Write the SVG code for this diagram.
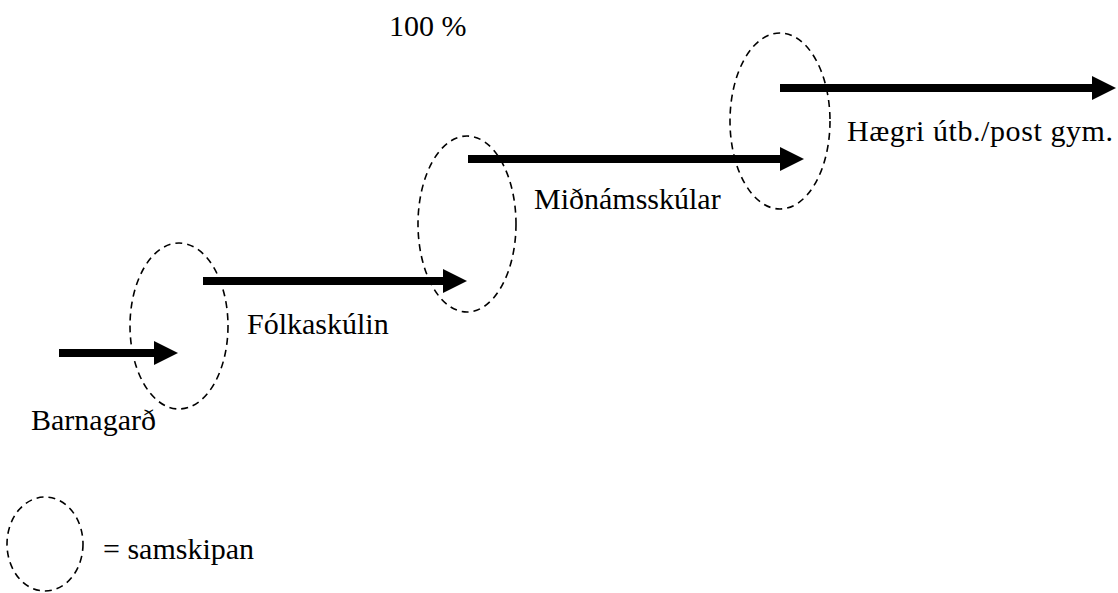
<svg xmlns="http://www.w3.org/2000/svg" width="1118" height="593" viewBox="0 0 1118 593">
<style>
.t{font-family:"Liberation Serif","Times New Roman",serif;font-size:30px;fill:#000}
.e{fill:none;stroke:#000;stroke-width:1.6;stroke-dasharray:7 5}
.a{stroke:#000;stroke-width:8;fill:none}
</style>
<defs>
<marker id="ah" markerUnits="userSpaceOnUse" markerWidth="24" markerHeight="24" viewBox="0 0 24 24" refX="0" refY="12" orient="auto">
<path d="M0,0 L24,12 L0,24 z" fill="#000"/>
</marker>
</defs>
<rect width="1118" height="593" fill="#fff"/>
<g id="connectors">
<line class="a" x1="59" y1="353" x2="154" y2="353" marker-end="url(#ah)"/>
<line class="a" x1="203" y1="281" x2="443" y2="281" marker-end="url(#ah)"/>
<line class="a" x1="468" y1="159" x2="780" y2="159" marker-end="url(#ah)"/>
<line class="a" x1="780" y1="88" x2="1092" y2="88" marker-end="url(#ah)"/>
</g>
<g id="overlap1"><ellipse class="e" cx="179" cy="326" rx="49" ry="83"/></g>
<g id="overlap2"><ellipse class="e" cx="467" cy="224" rx="49" ry="88"/></g>
<g id="overlap3"><ellipse class="e" cx="780" cy="121" rx="50" ry="88"/></g>
<g id="title"><text class="t" x="389" y="36">100 %</text></g>
<g id="barnagard"><text class="t" x="31" y="430">Barnagarð</text></g>
<g id="folkaskulin"><text class="t" x="247" y="334">Fólkaskúlin</text></g>
<g id="midnamsskular"><text class="t" x="534" y="209">Miðnámsskúlar</text></g>
<g id="haegri"><text class="t" x="847" y="141" textLength="266" lengthAdjust="spacing">Hægri útb./post gym.</text></g>
<g id="legend">
<ellipse class="e" cx="45" cy="544" rx="38" ry="47"/>
<text class="t" x="103" y="559">= samskipan</text>
</g>
</svg>
